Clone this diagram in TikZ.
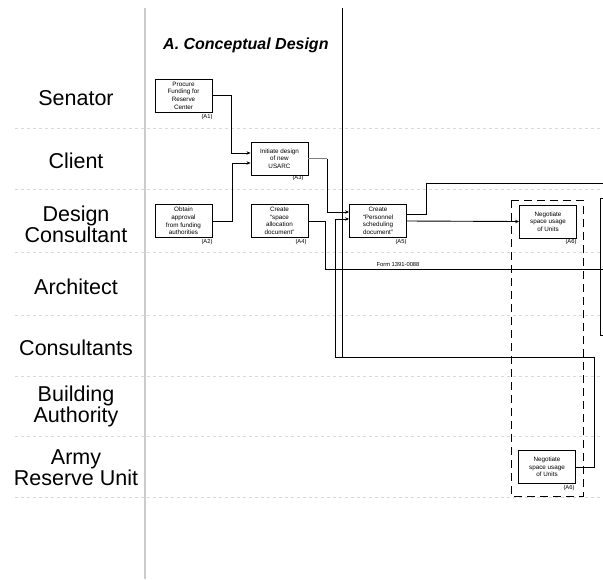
\documentclass[tikz,border=0pt]{standalone}
\usepackage{fontspec}
\setmainfont{Liberation Sans}
\usetikzlibrary{arrows.meta}
\tikzset{
  lane/.style={font=\fontsize{21.5}{19}\selectfont, align=center, inner sep=0pt},
  proc/.style={draw, line width=0.9pt, minimum width=57pt, minimum height=33pt, inner sep=1pt, align=center, font=\fontsize{6.3}{7.6}\selectfont},
  tag/.style={font=\fontsize{5.8}{6}\selectfont, inner sep=0pt},
  conn/.style={line width=0.9pt},
  arr/.style={conn, -{Stealth[length=4pt,width=3.4pt]}},
  sep/.style={gray!30, dashed, line width=0.5pt},
}
\begin{document}
\begin{tikzpicture}[x=1pt,y=-1pt]
\useasboundingbox (0,0) rectangle (603,579);
% lane separators
\foreach \yy in {128,189,252,315,376,436,497}{
  \draw[sep] (15,\yy) -- (603,\yy);
}
% left gray divider
\draw[gray!40, line width=2.5pt] (145,8) -- (145,579);
% lane labels
\node[lane] (lsen) at (76,98) {Senator};
\node[lane] (lcli) at (76,161) {Client};
\node[lane] (ldes) at (76,224) {Design\\Consultant};
\node[lane] (larc) at (76,287) {Architect};
\node[lane] (lcon) at (76,348) {Consultants};
\node[lane] (lbui) at (76,406) {Building\\Authority};
\node[lane] (larm) at (76,468) {Army\\Reserve Unit};
% title
\node[font=\fontsize{16}{17}\selectfont\bfseries\itshape, anchor=west, inner sep=0pt] (title) at (163,45) {A. Conceptual Design};
% main black vertical
\coordinate (vtop) at (342,8);
\coordinate (vbot) at (342,357);
\draw[conn] (vtop) -- (vbot);
% boxes
\node[proc] (a1) at (183.5,95.5) {Procure\\Funding for\\Reserve\\Center};
\node[tag] (t1) at (207,117) {(A1)};
\node[proc] (a3) at (279.5,158.5) {Initiate design\\of new\\USARC};
\node[tag] (t3) at (298,178) {(A3)};
\node[proc] (a2) at (183.5,221) {Obtain\\approval\\from funding\\authorities};
\node[tag] (t2) at (207,242) {(A2)};
\node[proc] (a4) at (279.5,221) {Create\\``space\\allocation\\document''};
\node[tag] (t4) at (301,242) {(A4)};
\node[proc] (a5) at (378,221) {Create\\``Personnel\\scheduling\\document''};
\node[tag] (t5) at (401,242) {(A5)};
\node[proc] (a6) at (548,221.5) {Negotiate\\space usage\\of Units};
\node[tag] (t6) at (571,242) {(A6)};
\node[proc] (a6b) at (547,467) {Negotiate\\space usage\\of Units};
\node[tag] (t6b) at (569,488) {(A6)};
% dashed group
\draw[dashed, dash pattern=on 8pt off 5pt, line width=0.9pt] (511,200) rectangle (583,496);
% connectors
\draw[arr] (a1.east) -- ++(19,0) |- ([yshift=5.5pt]a3.west);
\draw[arr] (a2.east) -- ++(20,0) |- ([yshift=-4.5pt]a3.west);
\coordinate (j3) at (327,158.5);
\draw[gray, line width=0.4pt] (a3.east) -- (j3);
\draw[arr] (j3) |- ([yshift=9pt]a5.west);
\coordinate (j4) at (325,269);
\coordinate (formend) at (603,269);
\draw[conn] (a4.east) -| (j4) -- (formend);
\node[tag] (form) at (398,264) {Form 1391-0088};
% A5 to A6
\draw[arr] (a5.east) -- (a6.west);
% A5 up and off page
\coordinate (up1) at (426,183);
\coordinate (offr) at (603,183);
\draw[conn] ([yshift=7pt]a5.east) -| (up1) -- (offr);
% A5 to lower A6 loop
\coordinate (lp1) at (335,357);
\coordinate (lp2) at (594,357);
\draw[arr] (lp1) |- ([yshift=2pt]a5.west);
\draw[conn] (lp1) -- (lp2) |- (a6b.east);
% partial box at right edge
\coordinate (br1) at (603,198);
\coordinate (br2) at (600,198);
\coordinate (br3) at (600,335);
\coordinate (br4) at (603,335);
\draw[conn] (br1) -- (br2) -- (br3) -- (br4);
\end{tikzpicture}
\end{document}
